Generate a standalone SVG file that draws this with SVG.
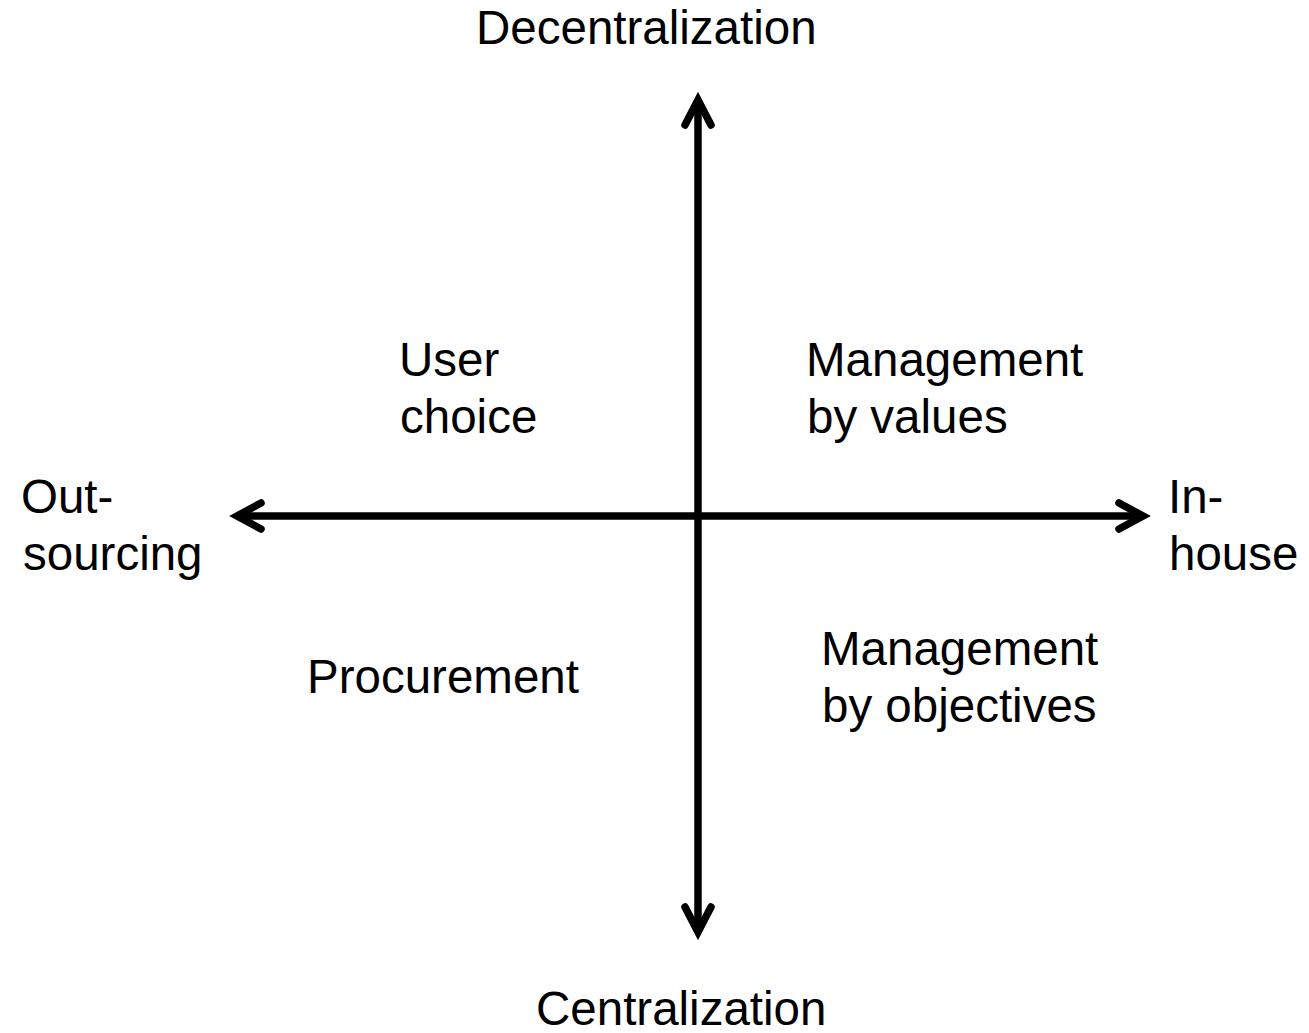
<svg xmlns="http://www.w3.org/2000/svg" width="1309" height="1033" viewBox="0 0 1309 1033">
<style>
text{font-family:"Liberation Sans",Arial,sans-serif;font-size:47.5px;fill:#000}
.ax{stroke:#000;stroke-width:7.5;fill:none}
.hd{stroke:#000;stroke-width:7.5;fill:none;stroke-linecap:round;stroke-linejoin:miter;stroke-miterlimit:10}
</style>
<rect width="1309" height="1033" fill="#fff"/>
<g id="connectors">
<line class="ax" x1="698" y1="100" x2="698" y2="932"/>
<line class="ax" x1="237" y1="516" x2="1143" y2="516"/>
<polyline class="hd" points="685,125 698,100 711,125"/>
<polyline class="hd" points="685,907 698,932 711,907"/>
<polyline class="hd" points="261,503 237,516 261,529"/>
<polyline class="hd" points="1119,503 1143,516 1119,529"/>
</g>
<g id="decentralization"><text x="476" y="44">Decentralization</text></g>
<g id="centralization"><text x="536" y="1025">Centralization</text></g>
<g id="outsourcing"><text x="21" y="513">Out-</text><text x="23" y="570">sourcing</text></g>
<g id="inhouse"><text x="1168" y="513">In-</text><text x="1169" y="570">house</text></g>
<g id="user-choice"><text x="399" y="376">User</text><text x="400" y="433">choice</text></g>
<g id="management-values"><text x="806" y="376">Management</text><text x="807" y="433">by values</text></g>
<g id="procurement"><text x="307" y="693">Procurement</text></g>
<g id="management-objectives"><text x="821" y="665">Management</text><text x="822" y="722">by objectives</text></g>
</svg>
